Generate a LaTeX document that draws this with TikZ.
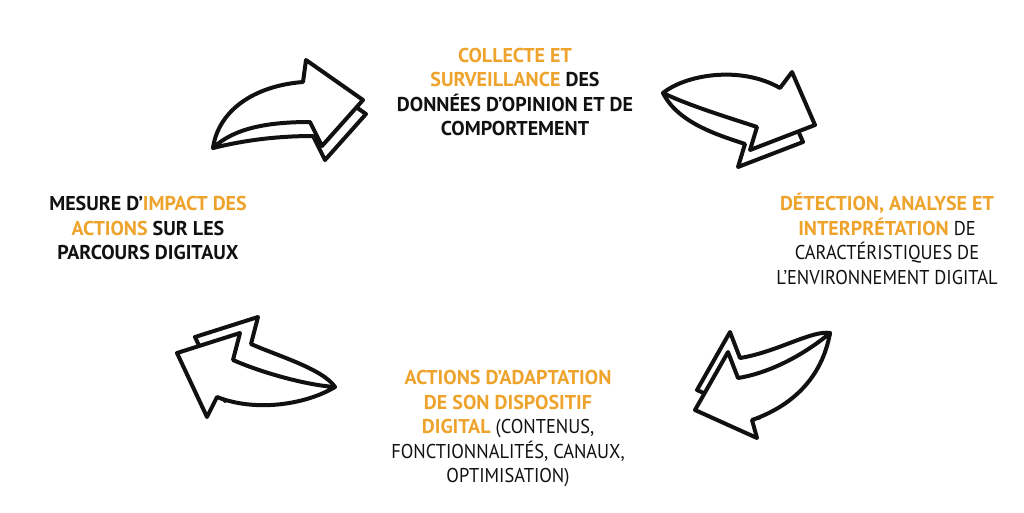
\documentclass[tikz,border=0pt]{standalone}
\usepackage{fontspec}
\setmainfont{PT Sans}
\newfontfamily\lightfont{PT Sans}[FakeStretch=0.92]
\definecolor{accent}{RGB}{238,163,45}
\definecolor{ink}{RGB}{17,17,17}
\newcommand{\acc}[1]{\textcolor{accent}{#1}}
% arrow outlines, pixel coordinates; #1 = offset of the face (tail stays put)
\newcommand{\arrowtl}[1]{(213,148) .. controls ([shift={#1}]218,112) and ([shift={#1}]252,86) .. ([shift={#1}]303,82) -- ([shift={#1}]306,60) -- ([shift={#1}]363,100) -- ([shift={#1}]322,146) -- ([shift={#1}]310,122) .. controls ([shift={#1}]268,122) and ([shift={#1}]234,128) .. (213,148) -- cycle}
\newcommand{\arrowtr}[1]{(663,93) .. controls ([shift={#1}]685,75) and ([shift={#1}]740,65) .. ([shift={#1}]780,88) -- ([shift={#1}]792,72) -- ([shift={#1}]815,125) -- ([shift={#1}]750,150) -- ([shift={#1}]757,127) .. controls ([shift={#1}]730,118) and ([shift={#1}]690,106) .. (663,93) -- cycle}
\newcommand{\arrowbr}[1]{(830,333) .. controls ([shift={#1}]810,350) and ([shift={#1}]775,372) .. ([shift={#1}]738,378) -- ([shift={#1}]728,352) -- ([shift={#1}]695,410) -- ([shift={#1}]757,438) -- ([shift={#1}]752,420) .. controls ([shift={#1}]792,406) and ([shift={#1}]822,378) .. (830,333) -- cycle}
\newcommand{\arrowbl}[1]{(335,387) .. controls ([shift={#1}]305,385) and ([shift={#1}]260,372) .. ([shift={#1}]233,360) -- ([shift={#1}]240,333) -- ([shift={#1}]177,353) -- ([shift={#1}]207,417) -- ([shift={#1}]217,397) .. controls ([shift={#1}]255,412) and ([shift={#1}]305,405) .. (335,387) -- cycle}

\begin{document}
\begin{tikzpicture}[x=1pt,y=-1pt,
    face/.style={draw=ink, line width=4pt, line join=round, fill=white},
    txt/.style={align=center, text=ink, font=\fontsize{20}{24.5}\selectfont\bfseries}]
\useasboundingbox (0,0) rectangle (1024,512);

% arrows: back face first, then front face
\draw[face] \arrowtl{(3,14)};
\draw[face] \arrowtl{(0,0)};
\draw[face] \arrowtr{(-12,17)};
\draw[face] \arrowtr{(0,0)};
\draw[face] \arrowbr{(2,-20)};
\draw[face] \arrowbr{(0,0)};
\draw[face] \arrowbl{(18,-16)};
\draw[face] \arrowbl{(0,0)};

% texts
\node[txt] (collecte) at (515,92) {\acc{COLLECTE ET}\\ \acc{SURVEILLANCE} DES\\ DONNÉES D’OPINION ET DE\\ COMPORTEMENT};
\node[txt] (detection) at (887,239) {\acc{DÉTECTION, ANALYSE ET}\\ \acc{INTERPRÉTATION} {\lightfont\mdseries DE}\\ {\lightfont\mdseries CARACTÉRISTIQUES DE}\\ {\lightfont\mdseries L’ENVIRONNEMENT DIGITAL}};
\node[txt] (actions) at (508,429) {\acc{ACTIONS D’ADAPTATION}\\ \acc{DE SON DISPOSITIF}\\ \acc{DIGITAL} {\lightfont\mdseries (CONTENUS,}\\ {\lightfont\mdseries FONCTIONNALITÉS, CANAUX,}\\ {\lightfont\mdseries OPTIMISATION)}};
\node[txt] (mesure) at (148,228) {MESURE D’\acc{IMPACT DES}\\ \acc{ACTIONS} SUR LES\\ PARCOURS DIGITAUX};
\end{tikzpicture}
\end{document}
